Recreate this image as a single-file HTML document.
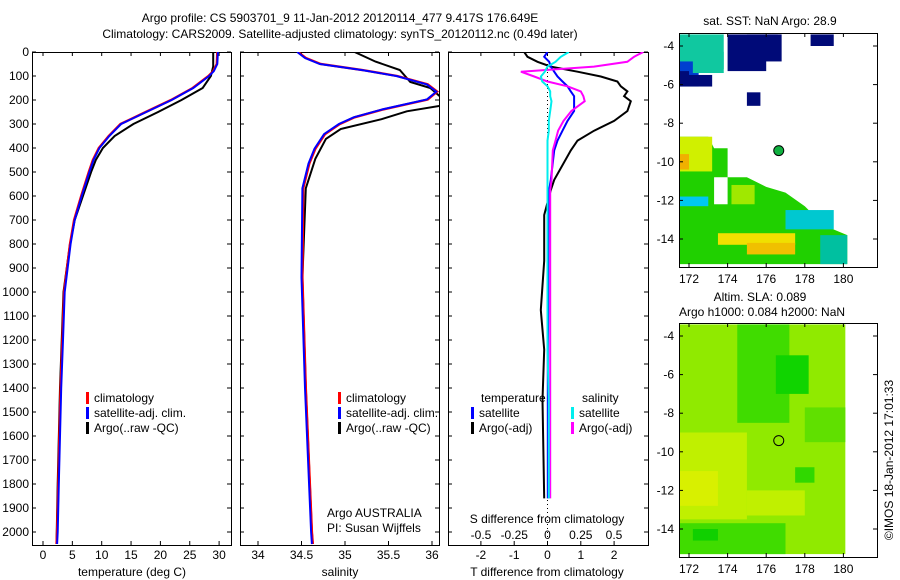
<!DOCTYPE html>
<html><head><meta charset="utf-8"><style>
body{margin:0;background:#fff}
svg{display:block;font-family:"Liberation Sans",sans-serif;font-size:12px}
</style></head><body>
<svg id="fig" width="900" height="580" viewBox="0 0 900 580">
<g id="gmain"></g>
</svg>
<script>
// ---- data ----
const depthClimT=[0,50,80,100,150,200,250,300,350,400,450,500,600,700,800,1000,1200,1400,1600,1800,2000,2050];
const climT=[29.7,29.6,29.0,28.2,25.5,21.8,17.5,13.2,11.2,9.5,8.5,7.8,6.5,5.3,4.6,3.6,3.3,3.0,2.8,2.6,2.4,2.3];
const depthArgoT=[0,60,100,150,200,250,300,350,400,450,500,600,700,800,1000,1400,1800,2050];
const argoT=[29.0,29.0,28.6,27.2,23.6,19.6,15.4,12.2,10.2,9.0,8.2,6.8,5.4,4.6,3.5,2.9,2.5,2.3];
const depthClimS=[0,25,50,75,100,135,165,198,239,272,300,342,403,465,568,940,1400,2000,2050];
const climS=[34.46,34.55,34.72,35.2,35.6,35.95,36.06,35.95,35.44,35.11,34.94,34.77,34.66,34.59,34.52,34.51,34.55,34.62,34.63];
const depthArgoS=[0,40,75,125,150,175,218,247,280,321,362,444,568,940,1400,2000,2050];
const argoS=[35.11,35.35,35.63,35.75,35.98,36.06,36.2,35.71,35.42,34.95,34.78,34.66,34.55,34.51,34.55,34.62,34.63];
const depthDiff=[0,20,41,61,82,102,123,143,164,184,205,246,287,328,369,410,533,575,679,870,1075,1240,1450,1860];
const diffArgoT=[-0.7,-0.6,-0.3,0.1,0.9,1.6,2.1,2.2,2.4,2.3,2.5,2.4,2.0,1.4,0.9,0.7,0.2,0.1,-0.1,-0.1,-0.2,-0.1,-0.15,-0.1];
const diffSatT=[0.0,-0.1,0.05,0.1,0.2,0.3,0.45,0.6,0.7,0.8,0.8,0.8,0.6,0.45,0.3,0.2,0.1,0.05,0.03,0.02,0.02,0.01,0.01,0.01];
const diffArgoS=[0.72,0.65,0.6,0.35,-0.2,-0.1,0.0,0.15,0.25,0.27,0.28,0.18,0.12,0.08,0.06,0.04,0.03,0.02,0.02,0.02,0.02,0.02,0.02,0.02];
const diffSatS=[0.16,0.1,0.06,0.0,-0.02,-0.05,-0.04,0.0,0.02,0.02,0.03,0.02,0.01,0.01,0.0,0.0,0.0,0.0,0.0,0.0,0.0,0.0,0.01,0.01];
const depthTicks=[0,100,200,300,400,500,600,700,800,900,1000,1100,1200,1300,1400,1500,1600,1700,1800,1900,2000];
const tempTicks=[0,5,10,15,20,25,30];
const salTicks=[34,34.5,35,35.5,36];
const tdTicks=[-2,-1,0,1,2];
const sdTicks=[-0.5,-0.25,0,0.25,0.5];
const lonTicks=[172,174,176,178,180];
const latTicks=[-4,-6,-8,-10,-12,-14];
const sstCells=[
[174,176,-3.4,-5.3,'#000a78'],[175,176.8,-3.4,-4.8,'#000a78'],[176.1,176.6,-3.4,-3.6,'#000a78'],[178.3,179.5,-3.4,-4.0,'#000a78'],[175,175.7,-6.4,-7.1,'#000a78'],
[171.5,173.8,-3.4,-5.2,'#10c8a0'],[171.5,172.5,-4.8,-6.1,'#0040d0'],[172,173.2,-5.5,-6.1,'#000a78'],[171.5,172,-5.3,-6.1,'#000a78'],[172.2,173.8,-4.3,-5.4,'#10c8a0']];
const sstPoly=[[171.5,-8.7],[173,-8.7],[173.3,-9.3],[174,-9.3],[174,-10.8],[175,-10.8],[176,-11.3],[177,-11.6],[178,-12.3],[179,-13.3],[180.2,-13.8],[180.2,-15.3],[171.5,-15.3]];
const sstPatches=[
[171.5,173.2,-8.7,-10.5,'#d0f000'],[171.5,172,-9.6,-10.4,'#f0b000'],[174.2,175.4,-11.2,-12.2,'#a0e800'],
[173.5,177.5,-13.7,-14.3,'#f0e000'],[175,177.5,-14.2,-14.8,'#f0c000'],[177,179.5,-12.5,-13.5,'#00c8d0'],[178.8,180.2,-13.8,-15.3,'#00c0a0'],[171.5,173,-11.8,-12.3,'#00c8f0']];
const slaPatches=[
[171.5,180.1,-3.4,-15.3,'#90ea00'],[171.5,175,-9,-13.5,'#c0f000'],[171.5,173.5,-11,-12.8,'#d8f000'],[175,178,-12,-13.3,'#c0f000'],
[174.5,177.2,-3.4,-8.5,'#40dc00'],[176.5,178.2,-5,-7,'#10d400'],[177.5,178.5,-10.8,-11.6,'#30d800'],[171.5,177,-13.7,-15.3,'#40dc00'],[172.2,173.5,-14,-14.6,'#10d000'],[178,180.1,-7.7,-9.5,'#60e000']];
// ---- drawing ----
const NS='http://www.w3.org/2000/svg';
const G=document.getElementById('gmain');
function el(t,a,p){const e=document.createElementNS(NS,t);for(const k in a)e.setAttribute(k,a[k]);(p||G).appendChild(e);return e;}
const TOP=52,BOT=545;
const yD=d=>TOP+d*0.24;
const xT=v=>43+v*5.87, xS=v=>258+(v-34)*87, xTD=v=>547.5+v*33.3, xSD=v=>547.5+v*133;
function frame(x0,x1,y0,y1,name){const r=el('rect',{x:x0+.5,y:y0+.5,width:x1-x0,height:y1-y0,fill:'none',stroke:'#000'});}
function txt(x,y,s,anchor,name,extra){const t=el('text',Object.assign({x:x,y:y,'text-anchor':anchor||'middle'},extra||{}));t.textContent=s;return t;}
function line(xs,ds,fx,col,w,name){const pts=xs.map((v,i)=>fx(v).toFixed(1)+','+yD(ds[i]).toFixed(1)).join(' ');const p=el('polyline',{points:pts,fill:'none',stroke:col,'stroke-width':w});}
function depthAxis(x0,x1,labels){depthTicks.forEach(d=>{const y=yD(d);el('line',{x1:x0,x2:x0+4,y1:y,y2:y,stroke:'#000'});el('line',{x1:x1-4,x2:x1,y1:y,y2:y,stroke:'#000'});if(labels)txt(x0-3,y+4,String(d),'end','depth-tick-label');});}
function xAxis(ticks,fx,name){ticks.forEach(v=>{const x=fx(v);el('line',{x1:x,x2:x,y1:BOT,y2:BOT-4,stroke:'#000'});el('line',{x1:x,x2:x,y1:TOP,y2:TOP+4,stroke:'#000'});txt(x,559,String(v),'middle',name);});}
function legend(x,y,items){items.forEach((it,i)=>{el('rect',{x:x,y:y+i*15-10,width:3,height:12,fill:it[1]});txt(x+8,y+i*15,it[0],'start','legend-entry');});}
txt(340,22,'Argo profile: CS 5903701_9 11-Jan-2012 20120114_477 9.417S 176.649E','middle','main-title');
txt(340,38,'Climatology: CARS2009. Satellite-adjusted climatology: synTS_20120112.nc (0.49d later)','middle','subtitle');
// panel 1
const cp1=el('clipPath',{id:'cp1'});el('rect',{x:32,y:TOP,width:199,height:BOT-TOP},cp1);
frame(32,231,TOP,BOT,'temperature-panel');depthAxis(32,231,true);xAxis(tempTicks,xT,'temp-tick-label');
txt(132,576,'temperature (deg C)','middle','x-axis-title');
line(argoT,depthArgoT,xT,'#000',2,'argo-temp-line');
line(climT,depthClimT,xT,'#f00',2.4,'clim-temp-line');
line(climT.map(v=>v+0.1),depthClimT,xT,'#00f',2,'sat-temp-line');
legend(86,402,[['climatology','#f00'],['satellite-adj. clim.','#00f'],['Argo(..raw -QC)','#000']]);
// panel 2
const g2c=el('clipPath',{id:'cp2'});el('rect',{x:240,y:TOP,width:199,height:BOT-TOP},g2c);
frame(240,439,TOP,BOT,'salinity-panel');depthAxis(240,439,false);xAxis(salTicks,xS,'sal-tick-label');
txt(340,576,'salinity','middle','x-axis-title');
const sg=el('g',{'clip-path':'url(#cp2)'});
function lineIn(g,xs,ds,fx,col,w,name){const pts=xs.map((v,i)=>fx(v).toFixed(1)+','+yD(ds[i]).toFixed(1)).join(' ');const p=el('polyline',{points:pts,fill:'none',stroke:col,'stroke-width':w},g);}
lineIn(sg,argoS,depthArgoS,xS,'#000',2,'argo-sal-line');
lineIn(sg,climS,depthClimS,xS,'#f00',2.4,'clim-sal-line');
lineIn(sg,climS.map(v=>v-0.01),depthClimS,xS,'#00f',2,'sat-sal-line');
legend(338,402,[['climatology','#f00'],['satellite-adj. clim.','#00f'],['Argo(..raw -QC)','#000']]);
txt(327,517,'Argo AUSTRALIA','start','data-source');txt(327,532,'PI: Susan Wijffels','start','pi-name');
// panel 3
const g3c=el('clipPath',{id:'cp3'});el('rect',{x:448,y:TOP,width:200,height:BOT-TOP},g3c);
frame(448,648,TOP,BOT,'difference-panel');depthAxis(448,648,false);
tdTicks.forEach(v=>{const x=xTD(v);el('line',{x1:x,x2:x,y1:BOT,y2:BOT-4,stroke:'#000'});el('line',{x1:x,x2:x,y1:TOP,y2:TOP+4,stroke:'#000'});txt(x,559,String(v),'middle','tdiff-tick-label');});
sdTicks.forEach(v=>{const x=xSD(v);txt(x,539,String(v),'middle','sdiff-tick-label');});
txt(547,523,'S difference from climatology','middle','s-axis-title');
txt(547,576,'T difference from climatology','middle','x-axis-title');
el('line',{x1:547.5,x2:547.5,y1:60,y2:540,stroke:'#000','stroke-dasharray':'1,3'});
const dg=el('g',{'clip-path':'url(#cp3)'});
lineIn(dg,diffArgoT,depthDiff,xTD,'#000',2,'argo-tdiff-line');
lineIn(dg,diffSatT,depthDiff,xTD,'#00f',2,'sat-tdiff-line');
lineIn(dg,diffArgoS,depthDiff,xSD,'#f0f',2,'argo-sdiff-line');
lineIn(dg,diffSatS,depthDiff,xSD,'#0ee',2,'sat-sdiff-line');
txt(481,402,'temperature','start','legend-title');txt(582,402,'salinity','start','legend-title');
legend(471,417,[['satellite','#00f'],['Argo(-adj)','#000']]);
legend(571,417,[['satellite','#0ee'],['Argo(-adj)','#f0f']]);
// maps
const lonX=v=>689+(v-172)*19.3;
function map(y0,y1,name){
  const cp=el('clipPath',{id:'c'+name});el('rect',{x:679,y:y0,width:198,height:y1-y0},cp);
  const g=el('g',{'clip-path':'url(#c'+name+')'});
  return g;}
const lat1=v=>46+(-4-v)*19.3;
const g1=map(33,267,'sst');
sstCells.forEach(c=>{const r=el('rect',{x:lonX(c[0]),y:lat1(c[2]),width:lonX(c[1])-lonX(c[0]),height:lat1(c[3])-lat1(c[2]),fill:c[4]},g1);});
const pg=el('polygon',{points:sstPoly.map(p=>lonX(p[0])+','+lat1(p[1])).join(' '),fill:'#20d000'},g1);
sstPatches.forEach(c=>{const r=el('rect',{x:lonX(c[0]),y:lat1(c[2]),width:lonX(c[1])-lonX(c[0]),height:lat1(c[3])-lat1(c[2]),fill:c[4]},g1);});
el('rect',{x:lonX(173.3),y:lat1(-10.8),width:lonX(174)-lonX(173.3),height:lat1(-12.2)-lat1(-10.8),fill:'#fff'},g1);
frame(679,877,33,267,'sst-map');
const dot=el('circle',{cx:lonX(176.65),cy:lat1(-9.42),r:5,fill:'#10b040',stroke:'#000'});
txt(770,25,'sat. SST: NaN Argo: 28.9','middle','sst-map-title');
const lat2=v=>336+(-4-v)*19.3;
const g2=map(323,557,'sla');
slaPatches.forEach(c=>{const r=el('rect',{x:lonX(c[0]),y:lat2(c[2]),width:lonX(c[1])-lonX(c[0]),height:lat2(c[3])-lat2(c[2]),fill:c[4]},g2);});
frame(679,877,323,557,'sla-map');
const c2=el('circle',{cx:lonX(176.65),cy:lat2(-9.42),r:5,fill:'none',stroke:'#000'});
txt(760,301,'Altim. SLA: 0.089','middle','sla-map-title');txt(762,316,'Argo h1000: 0.084 h2000: NaN','middle','sla-map-subtitle');
[[33,267,lat1],[323,557,lat2]].forEach(m=>{
  lonTicks.forEach(v=>{const x=lonX(v);el('line',{x1:x,x2:x,y1:m[0],y2:m[0]+4,stroke:'#000'});el('line',{x1:x,x2:x,y1:m[1],y2:m[1]-4,stroke:'#000'});txt(x,m[1]+16,String(v),'middle','lon-tick-label');});
  latTicks.forEach(v=>{const y=m[2](v);el('line',{x1:679,x2:683,y1:y,y2:y,stroke:'#000'});el('line',{x1:877,x2:873,y1:y,y2:y,stroke:'#000'});txt(674,y+4,String(v),'end','lat-tick-label');});
});
txt(0,0,'©IMOS 18-Jan-2012 17:01:33','middle','timestamp',{transform:'translate(893,460) rotate(-90)'});
</script>
</body></html>
